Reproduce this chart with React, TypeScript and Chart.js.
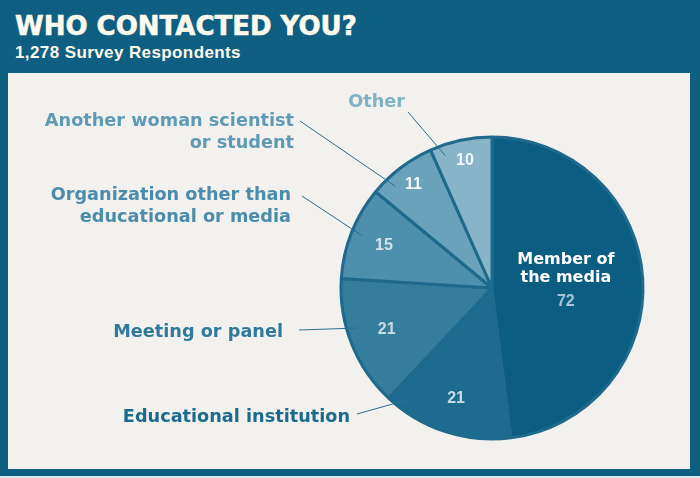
import React, { useEffect, useRef } from "react";
import { Chart, registerables } from "chart.js";

Chart.register(...registerables);

// ---- data ----
const CATEGORIES = [
  "Member of the media",
  "Educational institution",
  "Meeting or panel",
  "Organization other than educational or media",
  "Another woman scientist or student",
  "Other",
];
const VALUES = [72, 21, 21, 15, 11, 10];
const LABEL_LINES = [
  ["Member of", "the media"],
  ["Educational institution"],
  ["Meeting or panel"],
  ["Organization other than", "educational or media"],
  ["Another woman scientist", "or student"],
  ["Other"],
];

// ---- styles ----
const SLICE_COLORS = ["#0b5e82", "#1d6c8f", "#357d9c", "#4d8fac", "#6aa2bb", "#87b4c8"];
const LABEL_COLORS = ["#ffffff", "#1b6b8f", "#2f7a9c", "#4a8cab", "#5e9ab5", "#7fb1c7"];
const VALUE_COLORS = ["#a8c6d6", "#c9dce6", "#c9dce6", "#d3e3eb", "#f4f8fa", "#f4f8fa"];
const VALUE_RADIUS = [0.49, 0.77, 0.75, 0.77, 0.86, 0.86];
// label anchor: right x, first baseline y (canvas px); leader start point
const LABEL_POS: ([number, number] | null)[] = [null, [342, 349], [275, 264], [283, 127], [286, 53], [397, 34]];
const LEADER_FROM: ([number, number] | null)[] = [null, [349, 341], [291, 257], [294, 123], [292, 48], [400, 39]];
const LEADER_FRAC = [0, 0.88, 0.6, 0.51, 0.26, 0.19];

const FONT = '"DejaVu Sans", "Liberation Sans", Arial, sans-serif';
const NUM_FONT = '"Liberation Sans", Arial, sans-serif';

const labelPlugin = {
  id: "sliceLabels",
  afterDatasetsDraw(chart: any) {
    const ctx = chart.ctx;
    const meta = chart.getDatasetMeta(0);
    ctx.save();
    meta.data.forEach((arc: any, i: number) => {
      const { x, y, startAngle, endAngle, outerRadius } = arc.getProps(
        ["x", "y", "startAngle", "endAngle", "outerRadius"],
        true
      );
      const mid = (startAngle + endAngle) / 2;
      const vr = outerRadius * VALUE_RADIUS[i];
      const vx = x + Math.cos(mid) * vr;
      const vy = y + Math.sin(mid) * vr;
      ctx.textAlign = "center";
      ctx.textBaseline = "middle";
      if (i === 0) {
        ctx.fillStyle = LABEL_COLORS[0];
        ctx.font = `bold 16px ${FONT}`;
        ctx.fillText(LABEL_LINES[0][0], vx, vy - 24);
        ctx.fillText(LABEL_LINES[0][1], vx, vy - 6);
        ctx.fillStyle = VALUE_COLORS[0];
        ctx.font = `bold 16px ${NUM_FONT}`;
        ctx.fillText(String(VALUES[0]), vx, vy + 18);
      } else {
        ctx.fillStyle = VALUE_COLORS[i];
        ctx.font = `bold 16px ${NUM_FONT}`;
        ctx.fillText(String(VALUES[i]), vx, vy);
      }
      const pos = LABEL_POS[i];
      const from = LEADER_FROM[i];
      if (pos && from) {
        const a = startAngle + LEADER_FRAC[i] * (endAngle - startAngle);
        const lr = outerRadius * 0.93;
        ctx.strokeStyle = "#2a6e8e";
        ctx.lineWidth = 1;
        ctx.beginPath();
        ctx.moveTo(from[0], from[1]);
        ctx.lineTo(x + Math.cos(a) * lr, y + Math.sin(a) * lr);
        ctx.stroke();
        ctx.fillStyle = LABEL_COLORS[i];
        ctx.font = `bold 17.7px ${FONT}`;
        ctx.textAlign = "right";
        ctx.textBaseline = "alphabetic";
        LABEL_LINES[i].forEach((line, k) => {
          ctx.fillText(line, pos[0], pos[1] + k * 22);
        });
      }
    });
    ctx.restore();
  },
};

export default function App() {
  const ref = useRef<HTMLCanvasElement | null>(null);

  useEffect(() => {
    document.body.style.margin = "0";
    const canvas = ref.current;
    if (!canvas) return;
    const chart = new Chart(canvas, {
      type: "pie",
      data: {
        labels: CATEGORIES,
        datasets: [
          {
            data: VALUES,
            backgroundColor: SLICE_COLORS,
            borderColor: "#1f6a8c",
            borderWidth: 3,
            hoverBorderWidth: 3,
          },
        ],
      },
      options: {
        responsive: false,
        animation: false,
        radius: 151,
        layout: { padding: { left: 300, right: 14, top: 34, bottom: 0 } },
        plugins: {
          legend: { display: false },
          tooltip: { enabled: false },
          title: { display: false },
        },
        events: [],
      } as any,
      plugins: [labelPlugin],
    });
    return () => chart.destroy();
  }, []);

  return (
    <div
      style={{
        position: "relative",
        width: 700,
        height: 478,
        background: "#d9e8ee",
        fontFamily: FONT,
        overflow: "hidden",
      }}
    >
      <div
        style={{
          position: "absolute",
          left: 0,
          top: 0,
          width: 700,
          height: 476,
          background: "#0e5f82",
        }}
      />
      <div
        style={{
          position: "absolute",
          left: 15,
          top: 11,
          color: "#fdf9ec",
          fontWeight: 700,
          fontSize: 26,
          lineHeight: "30px",
          WebkitTextStroke: "0.6px #fdf9ec",
          whiteSpace: "nowrap",
        }}
      >
        WHO CONTACTED YOU?
      </div>
      <div
        style={{
          position: "absolute",
          left: 15,
          top: 43,
          color: "#fdf9ec",
          fontWeight: 700,
          fontSize: 17,
          lineHeight: "19px",
          letterSpacing: 0.4,
          fontFamily: NUM_FONT,
          whiteSpace: "nowrap",
        }}
      >
        1,278 Survey Respondents
      </div>
      <div
        style={{
          position: "absolute",
          left: 8,
          top: 73,
          width: 682,
          height: 396,
          background: "#f3f1ed",
        }}
      >
        <canvas ref={ref} width={682} height={396} style={{ display: "block", width: 682, height: 396 }} />
      </div>
    </div>
  );
}
